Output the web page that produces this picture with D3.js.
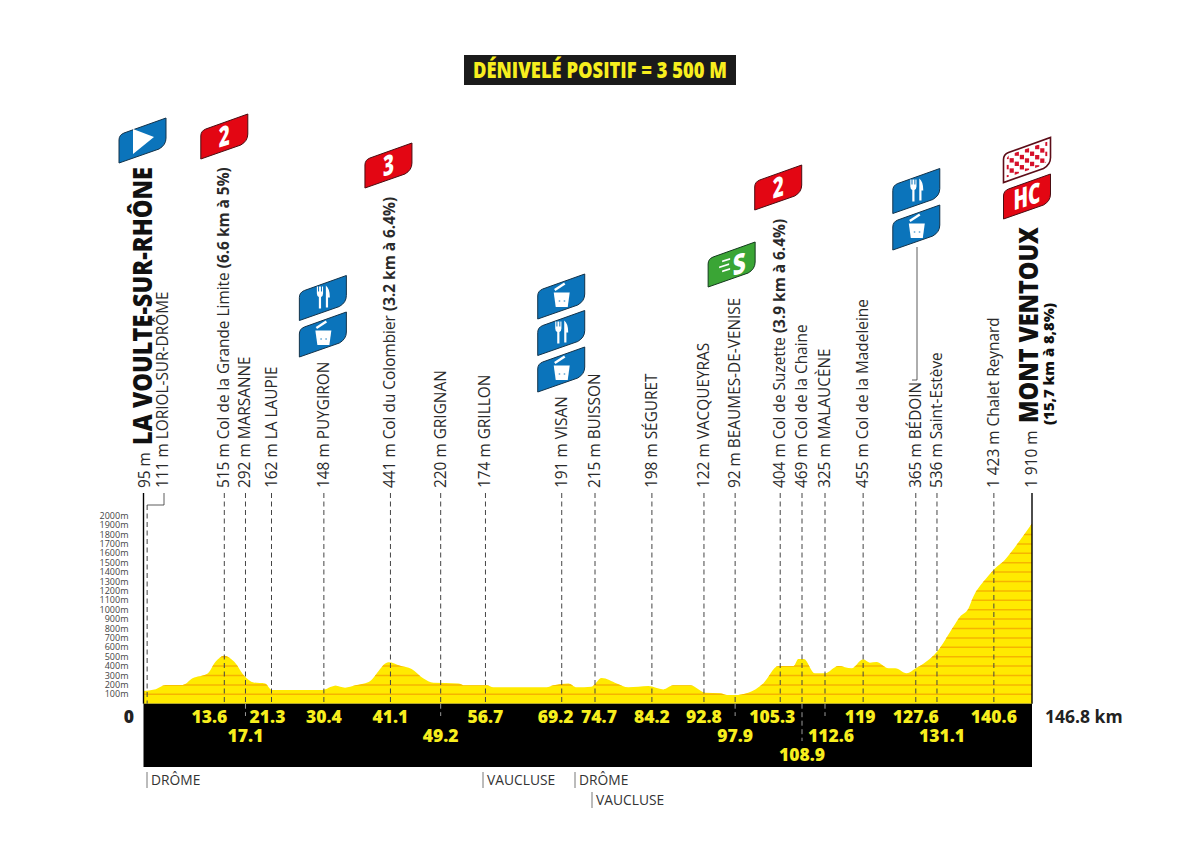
<!DOCTYPE html>
<html>
<head>
<meta charset="utf-8">
<script src="https://cdn.jsdelivr.net/npm/d3@7"></script>
<style>
  html, body { margin: 0; background: #fff; }
  svg { display: block; font-family: "Open Sans", sans-serif; }
</style>
</head>
<body>
<div id="chart"></div>
<script>
// profile
var profileKm = [0, 1.8, 3.7, 6.5, 8.1, 10.6, 11.9, 13.3, 15, 16.6, 18.2, 20.1, 21.2, 29.5, 31.7, 33.3, 35, 37.2, 40.5, 42.4,
  44.3, 46.2, 47.9, 52, 53.1, 56.7, 57.8, 66.6, 67.7, 70.2, 71.6, 74, 75.7, 78.2, 80.1, 83.4, 85.9, 87.5, 90.3, 92.8,
  95.3, 96.4, 97.7, 99.9, 102.4, 104.9, 107.4, 108.2, 109.1, 110.9, 112.6, 114.8, 117, 118.9, 120, 121.1, 123.1, 124.2, 126.1, 127.6,
  131.1, 133.8, 134.9, 136.3, 137.1, 139, 140.6, 142.3, 143.4, 146.8];
var profileAlt = [135, 150, 200, 200, 270, 322, 445, 510, 445, 300, 225, 215, 145, 145, 190, 170, 195, 230, 440, 404,
  369, 270, 223, 216, 195, 195, 174, 174, 195, 216, 174, 180, 273, 216, 174, 188, 152, 195, 195, 117,
  110, 92, 92, 117, 216, 400, 400, 475, 475, 323, 323, 400, 376, 472, 436, 443, 376, 376, 323, 376,
  553, 819, 926, 1014, 1138, 1316, 1433, 1528, 1617, 1918];

var altTicks = d3.range(100, 2001, 100);

// passages: where the line sits, then the altitude and the name
var passKm = [0, 0.6, 13.35, 16.85, 21.15, 29.8, 40.8, 49.1, 56.5, 69.1, 74.6, 84, 92.6, 97.75, 105.2, 108.8, 112.6, 118.9, 127.6, 131.1, 140.5, 146.8];
var passAlt = ['95 m', '111 m', '515 m', '292 m', '162 m', '148 m', '441 m', '220 m', '174 m', '191 m', '215 m', '198 m', '122 m', '92 m', '404 m', '469 m', '325 m', '455 m', '365 m', '536 m', '1 423 m', '1 910 m'];
var passName = ['', 'LORIOL-SUR-DRÔME', 'Col de la Grande Limite', 'MARSANNE', 'LA LAUPIE', 'PUYGIRON', 'Col du Colombier', 'GRIGNAN', 'GRILLON', 'VISAN', 'BUISSON', 'SÉGURET', 'VACQUEYRAS', 'BEAUMES-DE-VENISE', 'Col de Suzette', 'Col de la Chaine', 'MALAUCÈNE', 'Col de la Madeleine', 'BÉDOIN', 'Saint-Estève', 'Chalet Reynard', ''];
var passClimb = ['', '', '(6.6 km à 5%)', '', '', '', '(3.2 km à 6.4%)', '', '', '', '', '', '', '', '(3.9 km à 6.4%)', '', '', '', '', '', '', ''];

// km printed in the black band
var kmLabels = ['13.6', '17.1', '21.3', '30.4', '41.1', '49.2', '56.7', '69.2', '74.7', '84.2', '92.8', '97.9', '105.3', '108.9', '112.6', '119', '127.6', '131.1', '140.6'];

var deptNames = ['DRÔME', 'VAUCLUSE', 'DRÔME', 'VAUCLUSE'];

var titleText = 'DÉNIVELÉ POSITIF = 3 500 M';
var startName = 'LA VOULTE-SUR-RHÔNE';
var finishName = 'MONT VENTOUX';
var finishClimb = '(15,7 km à 8,8%)';
var totalKm = 146.8;

// layout
var width = 1200, height = 849;
var x = d3.scaleLinear().domain([0, totalKm]).range([143.5, 1032]);
var y = d3.scaleLinear().domain([0, 2000]).range([703.7, 515.7]);
var bandBottom = 767, lineTop = 493, textStart = 488;

var YELLOW = '#ffea00', STRIPE = '#f6b400', NUMS = '#f7ee1e';
var BLUE = '#0b74bb', RED = '#e30613', GREEN = '#3aa535', EDGE = '#12324a';

var svg = d3.select('#chart').append('svg').attr('width', width).attr('height', height);

// title box
svg.append('rect').attr('x', 464).attr('y', 55).attr('width', 272).attr('height', 30).attr('fill', '#1b1b1b');
svg.append('text').attr('x', 473).attr('y', 78)
  .attr('textLength', 254).attr('lengthAdjust', 'spacingAndGlyphs')
  .attr('font-size', 23).attr('font-weight', 800).attr('fill', NUMS)
  .text(titleText);

// profile
var area = d3.area()
  .curve(d3.curveMonotoneX)
  .x(function(d, i) { return x(profileKm[i]); })
  .y0(y(0))
  .y1(function(d) { return y(d); });

svg.append('clipPath').attr('id', 'profile-clip')
  .append('path').attr('d', area(profileAlt));

svg.append('path').attr('d', area(profileAlt)).attr('fill', YELLOW);

svg.append('g').attr('clip-path', 'url(#profile-clip)')
  .selectAll('line').data(altTicks).enter().append('line')
  .attr('x1', x(0)).attr('x2', x(totalKm))
  .attr('y1', y).attr('y2', y)
  .attr('stroke', STRIPE).attr('stroke-width', 1.5);

// black band
svg.append('rect').attr('x', x(0)).attr('y', y(0))
  .attr('width', x(totalKm) - x(0)).attr('height', bandBottom - y(0)).attr('fill', '#000');

// altitude ticks
svg.append('g').selectAll('text').data(altTicks).enter().append('text')
  .attr('x', 128.5).attr('y', function(d) { return y(d) + 3; })
  .attr('text-anchor', 'end').attr('font-size', 9).attr('fill', '#444')
  .text(function(d) { return d + 'm'; });

// dashed lines up from the band, first and last are the solid axes
var passes = passKm.map(function(km, i) {
  return { km: km, alt: passAlt[i], name: passName[i], climb: passClimb[i] };
});
var dashed = passes.slice(1, -1);

svg.append('g').selectAll('line').data(dashed).enter().append('line')
  .attr('x1', function(d) { return x(d.km); })
  .attr('x2', function(d) { return x(d.km); })
  .attr('y1', function(d) { return d.km < 1 ? 505 : lineTop; })
  .attr('y2', y(0))
  .attr('stroke', '#444').attr('stroke-width', 1).attr('stroke-dasharray', '5 3.5');

// axes
[0, totalKm].forEach(function(km) {
  svg.append('line').attr('x1', x(km)).attr('x2', x(km))
    .attr('y1', lineTop).attr('y2', y(0))
    .attr('stroke', '#000').attr('stroke-width', 1.4);
});

// Loriol connector
svg.append('path')
  .attr('d', 'M' + x(passKm[1]) + ',505H164V' + lineTop)
  .attr('fill', 'none').attr('stroke', '#333').attr('stroke-width', 0.8);

// rotated labels, nudge from the line to the centre of the text
var labelNudge = { '111 m': 16, '95 m': 1.5 };
var labels = svg.append('g').selectAll('text').data(passes).enter().append('text')
  .attr('transform', function(d) {
    var lx = x(d.km) - 1 + (labelNudge[d.alt] || 0);
    if (d.alt === '1 910 m') lx = 1031;
    return 'translate(' + lx + ',' + textStart + ') rotate(-90)';
  })
  .attr('dominant-baseline', 'central')
  .attr('font-size', 15.4).attr('fill', '#2a2a2a');

labels.append('tspan').text(function(d) { return d.alt + (d.name ? ' ' + d.name : ''); });
labels.append('tspan').attr('font-weight', 700)
  .text(function(d) { return d.climb ? ' ' + d.climb : ''; });

// big town names
function bigName(txt, lx, fromY, len, size) {
  svg.append('text')
    .attr('transform', 'translate(' + lx + ',' + fromY + ') rotate(-90)')
    .attr('textLength', len).attr('lengthAdjust', 'spacingAndGlyphs')
    .attr('font-size', size).attr('font-weight', 800).attr('fill', '#111')
    .text(txt);
}
bigName(startName, 152, 445, 278, 27);
bigName(finishName, 1037.5, 423, 196, 27);
bigName(finishClimb, 1054, 425, 122, 14.5);

// km numbers in the band: row and nudge per label
var kmRow = { '17.1': 1, '49.2': 1, '97.9': 1, '112.6': 1, '131.1': 1, '108.9': 2 };
var kmNudge = { '13.6': -15, '21.3': -4, '69.2': -6, '74.7': 4, '105.3': -8, '119': -3, '131.1': 5, '112.6': 6 };
var rowY = [723, 742, 761];
var kmPasses = passes.slice(2, -1);

// lighter dashes crossing the band to reach the lower rows
svg.append('g').selectAll('line').data(kmPasses.filter(function(d, i) { return kmRow[kmLabels[i]]; }))
  .enter().append('line')
  .attr('x1', function(d) { return x(d.km); })
  .attr('x2', function(d) { return x(d.km); })
  .attr('y1', y(0))
  .attr('y2', function(d) { return d.km > 108 && d.km < 110 ? 741 : (d.km > 131 ? y(0) : 716); })
  .attr('stroke', '#999').attr('stroke-width', 1).attr('stroke-dasharray', '5 3.5');

svg.append('g').selectAll('text').data(kmPasses).enter().append('text')
  .attr('x', function(d, i) { return x(d.km) + (kmNudge[kmLabels[i]] || 0); })
  .attr('y', function(d, i) { return rowY[kmRow[kmLabels[i]] || 0]; })
  .attr('text-anchor', 'middle').attr('font-size', 17.5).attr('font-weight', 800).attr('fill', NUMS)
  .text(function(d, i) { return kmLabels[i]; });

svg.append('text').attr('x', 129).attr('y', 723).attr('text-anchor', 'middle')
  .attr('font-size', 17.5).attr('font-weight', 800).attr('fill', '#222').text('0');
svg.append('text').attr('x', 1045).attr('y', 723)
  .attr('font-size', 17.5).attr('font-weight', 700).attr('fill', '#222').text(totalKm + ' km');

// departments
var deptX = [147, 483, 575, 592], deptY = [785, 785, 785, 805];
var depts = svg.append('g').selectAll('g').data(deptNames).enter().append('g')
  .attr('transform', function(d, i) { return 'translate(' + deptX[i] + ',' + deptY[i] + ')'; });
depts.append('line').attr('y1', -13).attr('y2', 3).attr('stroke', '#555').attr('stroke-width', 0.8);
depts.append('text').attr('x', 4).attr('font-size', 13.8).attr('fill', '#333').text(function(d) { return d; });

// flags
var FLAG = 'M0,45V22Q0,17 5,15L47,0V20Q47,27 40,31Z';

function flagText(g, txt, cx, len) {
  g.append('text').attr('transform', 'translate(' + cx + ',32) skewY(-18)')
    .attr('x', -len / 2).attr('textLength', len).attr('lengthAdjust', 'spacingAndGlyphs')
    .attr('font-size', 28).attr('font-weight', 800).attr('fill', '#fff').text(txt);
}

function drawIcon(g, type) {
  if (type === 'start') {
    g.append('path').attr('d', 'M14,11V36L35,19Z').attr('fill', '#fff');
  } else if (type === 'food') {
    g.append('path').attr('fill', '#fff')
      .attr('d', 'M17.5,11V18Q17.5,20.5 19.5,21.5V33H21.7V21.5Q23.7,20.5 23.7,18V11H22.6V16H21.6V11H19.7V16H18.7V11Z' +
        'M26.5,10Q30.5,13 30.5,22H28.7V32H26.5Z');
  } else if (type === 'bag') {
    g.append('path').attr('fill', '#fff')
      .attr('d', 'M16,18.5H32L30,33H18Z');
    g.append('path').attr('d', 'M17,16L27,9.5').attr('stroke', '#fff').attr('stroke-width', 2.4);
    g.append('path').attr('d', 'M21,27h1.5M26,27h1.5').attr('stroke', BLUE).attr('stroke-width', 1);
  } else if (type === 'sprint') {
    flagText(g, 'S', 31, 13);
    g.append('path').attr('transform', 'skewY(-18)')
      .attr('d', 'M14,24h8M11,29h10M14,34h8').attr('stroke', '#fff').attr('stroke-width', 1.8);
  } else if (type === 'finish') {
    d3.range(9).forEach(function(c) {
      d3.range(9).forEach(function(r) {
        if ((c + r) % 2) return;
        g.append('rect')
          .attr('clip-path', 'url(#checker-clip)')
          .attr('x', 1 + c * 5.1).attr('y', 12 - c * 1.65 + r * 5.1 - 5)
          .attr('width', 4.2).attr('height', 4.4).attr('fill', '#d5102a');
      });
    });
  } else {
    flagText(g, type, 23.5, type === 'HC' ? 27 : 11);
  }
}

svg.append('clipPath').attr('id', 'checker-clip')
  .append('path').attr('d', 'M3,40V23Q3,19 7,17L44,4V19Q44,25 39,28Z');

var flagFill = { start: BLUE, food: BLUE, bag: BLUE, sprint: GREEN, finish: '#fff' };
var flagEdge = { '2': '#4a0d12', '3': '#4a0d12', HC: '#4a0d12', finish: '#5c0d18', sprint: '#123a1c' };
var flagStacks = [
  { km: 0, bottom: 163, dx: -1, icons: ['start'] },
  { km: 13.35, bottom: 159, dx: 0, icons: ['2'] },
  { km: 29.8, bottom: 357, dx: -1, icons: ['bag', 'food'] },
  { km: 40.8, bottom: 188, dx: -2, icons: ['3'] },
  { km: 69.1, bottom: 392, dx: -0.5, icons: ['bag', 'food', 'bag'] },
  { km: 97.75, bottom: 287, dx: -3.5, icons: ['sprint'] },
  { km: 105.2, bottom: 210, dx: -2, icons: ['2'] },
  { km: 127.6, bottom: 250, dx: 0.5, icons: ['bag', 'food'] },
  { km: 146.8, bottom: 219, dx: -5, icons: ['HC', 'finish'] }
];

flagStacks.forEach(function(s) {
  s.icons.forEach(function(type, n) {
    var g = svg.append('g')
      .attr('transform', 'translate(' + (x(s.km) - 23.5 + s.dx) + ',' + (s.bottom - 45 - n * 36.5) + ')');
    g.append('path').attr('d', FLAG)
      .attr('fill', flagFill[type] || RED)
      .attr('stroke', flagEdge[type] || EDGE).attr('stroke-width', type === 'finish' ? 1.6 : 1);
    drawIcon(g, type);
  });
});

// Bédoin leader goes up to its flags
svg.append('path').attr('d', 'M912,380H917V247')
  .attr('fill', 'none').attr('stroke', '#333').attr('stroke-width', 0.8);
</script>
</body>
</html>
